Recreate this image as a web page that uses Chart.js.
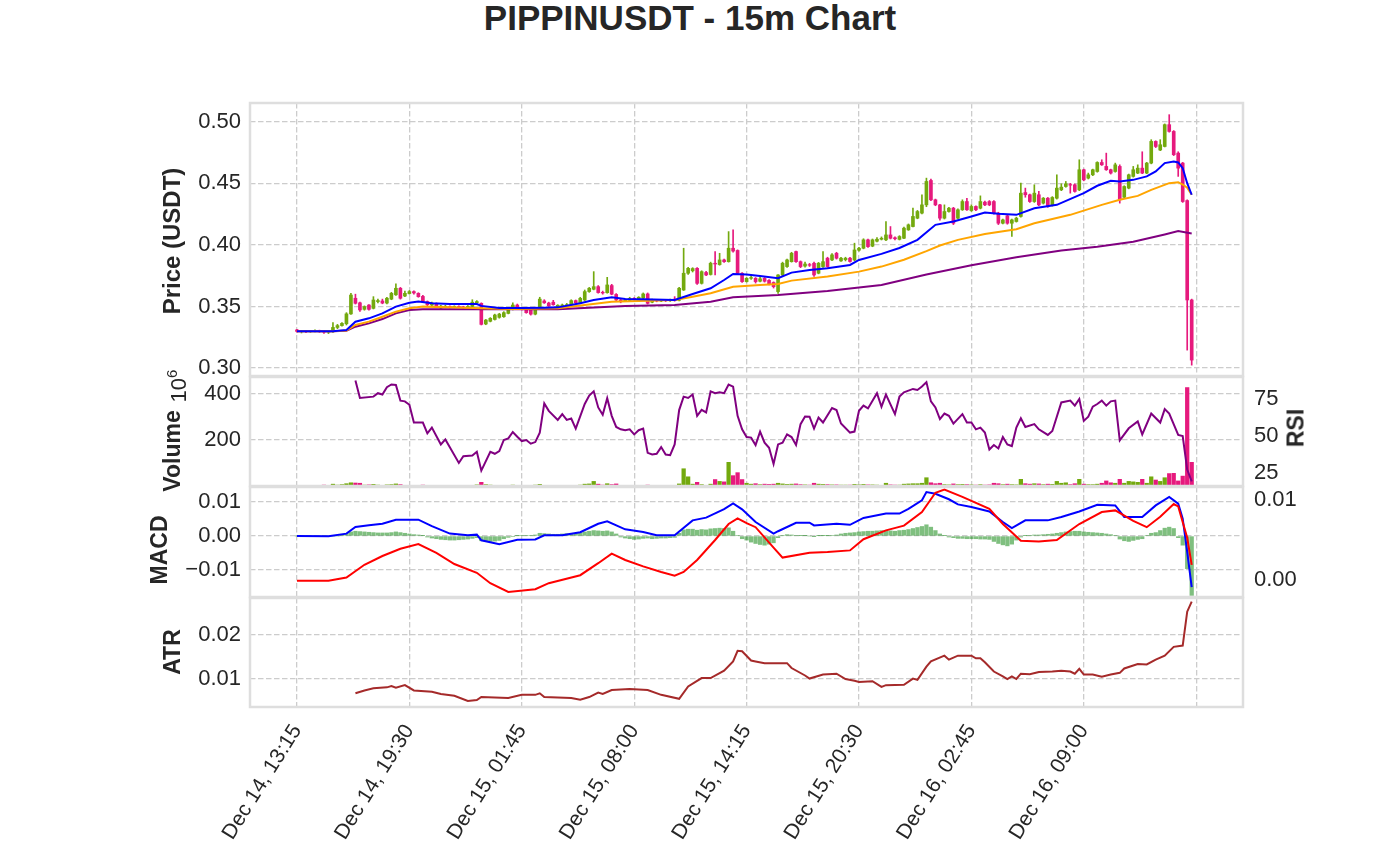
<!DOCTYPE html>
<html>
<head>
<meta charset="utf-8">
<script src="https://cdn.jsdelivr.net/npm/chart.js@4.4.0/dist/chart.umd.min.js"></script>
<style>
  body { margin: 0; background: #fff; width: 1380px; height: 862px; overflow: hidden; position: relative;
         font-family: "Liberation Sans", Arial, sans-serif; color: #262626; }
  .pane { position: absolute; left: 0; width: 1380px; }
  .lbl { position: absolute; font-weight: bold; font-size: 23px; white-space: nowrap; line-height: 1;
         transform: translate(-50%, -50%) rotate(-90deg); z-index: 5; }
  .off { font-weight: normal; font-size: 22px; }
  .off sup { font-size: 15px; }
  #title { position: absolute; left: 0; top: -2px; width: 1380px; text-align: center; font-weight: bold;
           font-size: 35px; line-height: 40px; }
</style>
</head>
<body>
<div id="title">PIPPINUSDT - 15m Chart</div>
<div class="pane" style="top:97px;height:285px"><canvas id="priceChart"></canvas></div>
<div class="pane" style="top:371px;height:121px"><canvas id="volChart"></canvas></div>
<div class="pane" style="top:481px;height:122px"><canvas id="macdChart"></canvas></div>
<div class="pane" style="top:592px;height:270px"><canvas id="atrChart"></canvas></div>
<div class="lbl" style="left:172px;top:241px;font-size:24px">Price (USDT)</div>
<div class="lbl off" style="left:177px;top:386px">10<sup>6</sup></div>
<div class="lbl" style="left:172px;top:451px">Volume</div>
<div class="lbl" style="left:159px;top:550px">MACD</div>
<div class="lbl" style="left:172px;top:652px">ATR</div>
<div class="lbl" style="left:1296px;top:428px">RSI</div>
<script>
// 15m candles, index 0 = Dec 14 13:15
const opens = [
  0.3310,0.3298,0.3300,0.3296,0.3299,0.3303,0.3297,0.3292,0.3296,0.3330,
  0.3345,0.3360,0.3440,0.3567,0.3530,0.3477,0.3512,0.3485,0.3540,0.3545,
  0.3528,0.3560,0.3595,0.3648,0.3585,0.3605,0.3621,0.3607,0.3582,0.3540,
  0.3512,0.3525,0.3488,0.3495,0.3500,0.3495,0.3500,0.3497,0.3492,0.3500,
  0.3530,0.3526,0.3358,0.3380,0.3395,0.3412,0.3417,0.3444,0.3477,0.3512,
  0.3485,0.3477,0.3470,0.3438,0.3480,0.3545,0.3528,0.3535,0.3500,0.3495,
  0.3505,0.3512,0.3548,0.3531,0.3553,0.3621,0.3640,0.3661,0.3615,0.3612,
  0.3670,0.3598,0.3553,0.3545,0.3550,0.3566,0.3562,0.3568,0.3602,0.3535,
  0.3548,0.3545,0.3550,0.3547,0.3560,0.3550,0.3634,0.3770,0.3790,0.3810,
  0.3688,0.3776,0.3760,0.3851,0.3840,0.3878,0.3864,0.3973,0.3955,0.3770,
  0.3702,0.3729,0.3729,0.3705,0.3729,0.3712,0.3695,0.3621,0.3756,0.3824,
  0.3864,0.3946,0.3864,0.3828,0.3840,0.3851,0.3770,0.3824,0.3892,0.3878,
  0.3932,0.3870,0.3880,0.3892,0.3878,0.3957,0.3973,0.4041,0.3990,0.4030,
  0.4046,0.4041,0.4081,0.4058,0.4045,0.4054,0.4122,0.4149,0.4217,0.4258,
  0.4325,0.4523,0.4366,0.4325,0.4217,0.4271,0.4298,0.4217,0.4285,0.4352,
  0.4279,0.4312,0.4298,0.4347,0.4352,0.4352,0.4258,0.4176,0.4236,0.4176,
  0.4190,0.4231,0.4425,0.4407,0.4352,0.4407,0.4339,0.4379,0.4320,0.4379,
  0.4447,0.4474,0.4490,0.4488,0.4447,0.4610,0.4542,0.4569,0.4596,0.4669,
  0.4637,0.4610,0.4596,0.4637,0.4387,0.4461,0.4556,0.4583,0.4623,0.4583,
  0.4664,0.4840,0.4770,0.4799,0.4976,0.4921,0.4745,0.4664,0.4360,0.3553
];
const highs = [
  0.3314,0.3305,0.3306,0.3304,0.3310,0.3308,0.3302,0.3300,0.3370,0.3355,
  0.3370,0.3450,0.3607,0.3600,0.3535,0.3505,0.3515,0.3580,0.3560,0.3560,
  0.3575,0.3615,0.3685,0.3655,0.3625,0.3630,0.3628,0.3612,0.3590,0.3545,
  0.3535,0.3530,0.3510,0.3510,0.3505,0.3506,0.3505,0.3502,0.3508,0.3555,
  0.3548,0.3530,0.3395,0.3410,0.3438,0.3445,0.3458,0.3480,0.3530,0.3520,
  0.3490,0.3482,0.3480,0.3482,0.3575,0.3555,0.3535,0.3550,0.3515,0.3520,
  0.3525,0.3555,0.3553,0.3575,0.3634,0.3655,0.3783,0.3670,0.3625,0.3737,
  0.3680,0.3605,0.3560,0.3560,0.3575,0.3572,0.3580,0.3610,0.3610,0.3560,
  0.3556,0.3558,0.3558,0.3560,0.3580,0.3655,0.3973,0.3818,0.3815,0.3815,
  0.3790,0.3785,0.3860,0.3946,0.3932,0.3885,0.4108,0.4122,0.3960,0.3775,
  0.3735,0.3760,0.3735,0.3740,0.3735,0.3718,0.3700,0.3760,0.3860,0.3885,
  0.3940,0.3950,0.3870,0.3860,0.3850,0.3860,0.3858,0.3946,0.3900,0.3930,
  0.3940,0.3900,0.3900,0.3900,0.4014,0.3980,0.4050,0.4048,0.4048,0.4060,
  0.4065,0.4190,0.4149,0.4065,0.4075,0.4145,0.4170,0.4298,0.4280,0.4407,
  0.4542,0.4535,0.4372,0.4330,0.4325,0.4305,0.4305,0.4292,0.4366,0.4379,
  0.4325,0.4318,0.4398,0.4355,0.4360,0.4360,0.4265,0.4210,0.4240,0.4210,
  0.4225,0.4501,0.4461,0.4412,0.4488,0.4434,0.4385,0.4385,0.4392,0.4569,
  0.4496,0.4515,0.4500,0.4495,0.4691,0.4615,0.4583,0.4615,0.4675,0.4691,
  0.4745,0.4615,0.4664,0.4650,0.4480,0.4575,0.4637,0.4650,0.4756,0.4670,
  0.4854,0.4845,0.4854,0.4982,0.5057,0.4928,0.4756,0.4670,0.4366,0.3560
];
const lows = [
  0.3292,0.3285,0.3288,0.3290,0.3294,0.3290,0.3282,0.3280,0.3290,0.3320,
  0.3340,0.3350,0.3435,0.3520,0.3460,0.3470,0.3470,0.3480,0.3530,0.3522,
  0.3520,0.3555,0.3590,0.3560,0.3580,0.3600,0.3600,0.3575,0.3535,0.3505,
  0.3505,0.3495,0.3480,0.3490,0.3488,0.3490,0.3492,0.3485,0.3488,0.3498,
  0.3525,0.3350,0.3352,0.3375,0.3390,0.3405,0.3412,0.3440,0.3472,0.3480,
  0.3470,0.3445,0.3430,0.3432,0.3475,0.3525,0.3500,0.3510,0.3495,0.3490,
  0.3500,0.3508,0.3525,0.3528,0.3548,0.3615,0.3635,0.3608,0.3600,0.3608,
  0.3595,0.3548,0.3530,0.3540,0.3545,0.3552,0.3555,0.3562,0.3520,0.3530,
  0.3538,0.3540,0.3540,0.3542,0.3543,0.3545,0.3630,0.3760,0.3780,0.3680,
  0.3682,0.3750,0.3755,0.3756,0.3835,0.3858,0.3860,0.3940,0.3765,0.3695,
  0.3698,0.3720,0.3690,0.3700,0.3698,0.3675,0.3650,0.3607,0.3750,0.3818,
  0.3860,0.3858,0.3815,0.3820,0.3825,0.3745,0.3765,0.3818,0.3818,0.3872,
  0.3885,0.3865,0.3870,0.3860,0.3872,0.3950,0.3968,0.3980,0.3985,0.4025,
  0.4040,0.4035,0.4048,0.4040,0.4040,0.4050,0.4118,0.4145,0.4212,0.4252,
  0.4310,0.4360,0.4318,0.4200,0.4210,0.4265,0.4165,0.4210,0.4280,0.4280,
  0.4272,0.4278,0.4292,0.4318,0.4318,0.4250,0.4165,0.4170,0.4168,0.4068,
  0.4185,0.4225,0.4387,0.4345,0.4345,0.4318,0.4332,0.4305,0.4315,0.4372,
  0.4440,0.4468,0.4420,0.4428,0.4440,0.4520,0.4535,0.4562,0.4590,0.4645,
  0.4605,0.4575,0.4590,0.4339,0.4380,0.4455,0.4550,0.4578,0.4578,0.4578,
  0.4658,0.4790,0.4765,0.4795,0.4915,0.4725,0.4556,0.4345,0.3146,0.3024
];
const closes = [
  0.3298,0.3300,0.3296,0.3299,0.3303,0.3297,0.3292,0.3296,0.3330,0.3345,
  0.3363,0.3440,0.3593,0.3526,0.3472,0.3499,0.3477,0.3553,0.3548,0.3528,
  0.3567,0.3607,0.3648,0.3567,0.3607,0.3621,0.3610,0.3580,0.3540,0.3515,
  0.3528,0.3500,0.3503,0.3502,0.3495,0.3500,0.3498,0.3490,0.3500,0.3535,
  0.3540,0.3355,0.3390,0.3404,0.3431,0.3438,0.3450,0.3472,0.3512,0.3485,
  0.3480,0.3450,0.3438,0.3477,0.3560,0.3530,0.3505,0.3515,0.3510,0.3512,
  0.3515,0.3548,0.3531,0.3566,0.3621,0.3648,0.3661,0.3613,0.3610,0.3675,
  0.3600,0.3553,0.3545,0.3553,0.3566,0.3560,0.3575,0.3602,0.3526,0.3548,
  0.3545,0.3550,0.3547,0.3552,0.3548,0.3648,0.3770,0.3810,0.3808,0.3688,
  0.3783,0.3756,0.3851,0.3845,0.3878,0.3864,0.3973,0.3950,0.3770,0.3702,
  0.3729,0.3735,0.3702,0.3725,0.3705,0.3680,0.3661,0.3756,0.3851,0.3878,
  0.3932,0.3864,0.3824,0.3845,0.3835,0.3756,0.3851,0.3864,0.3824,0.3919,
  0.3892,0.3892,0.3892,0.3865,0.3959,0.3973,0.4041,0.3986,0.4041,0.4046,
  0.4054,0.4081,0.4054,0.4050,0.4068,0.4136,0.4163,0.4231,0.4271,0.4325,
  0.4515,0.4366,0.4325,0.4217,0.4271,0.4298,0.4176,0.4285,0.4352,0.4285,
  0.4312,0.4285,0.4352,0.4325,0.4325,0.4258,0.4176,0.4203,0.4176,0.4203,
  0.4217,0.4420,0.4407,0.4352,0.4420,0.4325,0.4379,0.4312,0.4385,0.4461,
  0.4469,0.4496,0.4485,0.4434,0.4610,0.4528,0.4569,0.4610,0.4669,0.4650,
  0.4610,0.4583,0.4650,0.4366,0.4474,0.4569,0.4610,0.4623,0.4583,0.4664,
  0.4840,0.4799,0.4813,0.4976,0.4921,0.4732,0.4623,0.4352,0.3553,0.3065
];
// volume in millions
const volumeM = [
  3,2,2,3,2,3,4,3,8,4,  6,10,14,13,12,4,5,7,4,3,  5,6,9,6,3,2,2,3,4,3,  2,3,2,2,2,2,1,2,2,3,
  5,16,6,4,3,3,3,2,4,3,  2,3,3,4,7,3,3,3,2,2,  2,3,2,4,8,9,20,8,4,10,  6,9,3,2,2,2,2,3,4,2,
  1,1,1,1,2,9,75,40,8,16,  6,3,8,28,20,18,103,45,58,28,  12,8,10,6,8,7,8,12,9,7,  8,9,6,5,4,12,8,7,6,5,
  5,4,4,4,7,5,7,5,5,4,  3,12,5,4,4,8,9,10,10,12,  36,14,10,12,6,5,9,6,7,6,  5,4,6,4,5,12,10,6,8,6,
  5,29,10,8,10,9,6,8,7,20,  12,14,6,10,29,8,6,6,8,12,  22,14,12,29,12,20,18,16,29,12,  40,26,20,36,54,55,22,43,428,103
];
// moving averages on price: [index, value]
const emaFast = [[0,0.3300],[8,0.3300],[11,0.3310],[13,0.3377],[16,0.3404],[19,0.3444],[22,0.3499],[25,0.3531],[27,0.3540],[30,0.3526],
  [34,0.3520],[40,0.3520],[41,0.3505],[45,0.3488],[50,0.3488],[55,0.3490],[58,0.3493],[63,0.3526],[66,0.3553],[70,0.3575],
  [73,0.3560],[77,0.3558],[84,0.3553],[88,0.3602],[92,0.3648],[95,0.3715],[97,0.3764],[100,0.3760],[103,0.3748],[107,0.3729],
  [110,0.3775],[114,0.3797],[118,0.3810],[123,0.3837],[125,0.3878],[130,0.3927],[134,0.3975],[138,0.4041],[142,0.4163],[146,0.4190],
  [150,0.4231],[153,0.4263],[156,0.4252],[160,0.4244],[164,0.4298],[169,0.4325],[175,0.4420],[178,0.4480],[181,0.4520],[183,0.4515],
  [186,0.4528],[189,0.4556],[191,0.4596],[193,0.4664],[195,0.4677],[196,0.4669],[197,0.4623],[198,0.4501],[199,0.4407]];
const emaMid = [[0,0.3300],[8,0.3300],[11,0.3305],[13,0.3350],[16,0.3377],[19,0.3417],[22,0.3458],[25,0.3485],[28,0.3499],[34,0.3493],
  [41,0.3486],[48,0.3480],[55,0.3483],[58,0.3485],[70,0.3539],[84,0.3553],[88,0.3580],[92,0.3607],[97,0.3661],[103,0.3675],
  [107,0.3683],[110,0.3710],[118,0.3743],[125,0.3783],[130,0.3824],[135,0.3880],[140,0.3950],[143,0.3995],[147,0.4041],[153,0.4089],
  [160,0.4127],[164,0.4176],[172,0.4244],[179,0.4325],[183,0.4366],[187,0.4398],[190,0.4447],[194,0.4501],[196,0.4509],[197,0.4490],
  [198,0.4465],[199,0.4407]];
const emaSlow = [[0,0.3300],[8,0.3300],[11,0.3303],[13,0.3336],[16,0.3363],[19,0.3398],[22,0.3444],[25,0.3472],[28,0.3477],[41,0.3477],
  [58,0.3477],[73,0.3504],[84,0.3512],[92,0.3539],[97,0.3575],[107,0.3594],[118,0.3626],[125,0.3655],[130,0.3675],[140,0.3760],
  [150,0.3835],[160,0.3900],[170,0.3955],[178,0.3985],[186,0.4025],[193,0.4085],[196,0.4112],[199,0.4092]];
const rsi = [[13,87.5],[14,75.7],[17,76.6],[18,78.9],[19,78],[20,83],[21,84.8],[22,84.5],[23,73.9],[24,73.4],[25,71.1],[26,59.1],
  [28,59.1],[29,51.8],[30,55.7],[32,44.3],[33,47.7],[36,31.8],[37,36.4],[39,36.8],[40,39.3],[41,26.6],[43,39.3],[44,38],
  [45,39.8],[46,47.3],[47,48.4],[48,52.7],[49,49.5],[50,46.6],[51,47.3],[52,44.8],[53,45.9],[54,52.3],[55,72],[56,67],
  [58,60.9],[59,64.8],[60,60.9],[61,61.8],[62,55],[64,71.6],[65,77.3],[66,80.2],[67,69.3],[68,64.3],[69,75.5],[70,63.6],
  [71,56.1],[72,54.5],[73,53.9],[74,54.5],[75,51.1],[76,53.9],[77,55],[78,38.6],[79,37.5],[80,38],[81,42.5],[82,37.5],
  [83,37],[84,44.3],[85,67.5],[86,76.6],[87,75.7],[88,78],[89,63.6],[90,67.7],[91,65.9],[92,80.2],[93,78.9],[94,79.5],
  [95,78.9],[96,84.8],[97,83.4],[98,63.6],[99,54.5],[100,49.3],[101,48.9],[102,43.9],[103,53],[104,45.5],[105,42],[106,31.1],
  [107,44.3],[108,45.5],[109,51.1],[110,49.3],[111,43.9],[112,58],[113,63.2],[114,63],[115,55],[116,62.5],[117,59.1],[119,68.9],
  [120,67.5],[121,58.4],[123,52.3],[124,53],[125,67],[126,70.5],[127,68.6],[129,78.9],[130,69.8],[131,78],[133,64.8],[134,76.6],
  [135,79.5],[137,81.8],[138,81.1],[139,83.4],[140,86.4],[141,73.4],[142,69.3],[143,61.4],[144,65.2],[145,63.6],[146,58.4],[148,64.8],
  [149,59.1],[150,59.1],[151,54.5],[152,55.7],[153,52.3],[154,40.9],[155,43.9],[156,41.6],[157,49.3],[158,44.3],[159,43.2],[160,55.7],
  [161,62],[162,56.1],[164,58],[165,54.5],[167,50.7],[168,53.4],[170,72.7],[172,73.9],[173,70.5],[174,75],[175,60.2],[176,63],
  [177,69.8],[178,71.6],[179,73.9],[180,70.5],[181,73.4],[182,73.9],[183,47],[185,55.2],[187,59.8],[188,51.1],[190,65.2],[192,59.1],
  [193,68.2],[194,65.2],[196,50.7],[197,50],[198,27.3],[199,19.3]];
// MACD values in thousandths
const macdLine = [[0,0],[7,-0.1],[11,0.7],[13,2.65],[16,3.15],[19,3.6],[22,4.8],[27,4.8],[30,2.9],[34,0.7],[38,0.2],[40,0.4],
  [41,-1.27],[45,-2.45],[49,-1.1],[53,-1.0],[55,0.2],[59,0.2],[63,1.1],[67,3.6],[69,4.3],[73,1.96],[77,1.2],[80,0.2],[84,0.2],
  [88,4.6],[91,5.4],[95,7.9],[97,9.6],[99,7.85],[102,4.1],[106,0.7],[107,1.4],[111,3.9],[114,3.9],[115,3.1],[120,3.6],[123,3.3],
  [126,5.3],[131,6.6],[134,6.6],[136,8.0],[139,10.5],[140,12.9],[142,12.4],[145,10.8],[147,9.3],[150,8.5],[154,7.2],[157,4.1],
  [159,2.35],[162,4.6],[167,4.6],[170,5.6],[174,7.2],[178,9.2],[182,9.0],[184,5.6],[188,5.6],[191,9.0],[194,11.5],[196,9.5],
  [197,5.1],[198,-4.7],[199,-15]];
const signalLine = [[0,-0.1],[7,-0.1],[11,0.3],[15,1.9],[19,3.0],[23,3.9],[27,4.5],[31,3.4],[35,2.0],[40,0.9],[43,-0.4],[47,-1.5],
  [53,-1.15],[56,-0.4],[63,0.6],[67,2.1],[70,3.3],[73,2.5],[77,1.7],[81,1.0],[84,0.55],[86,1.0],[89,2.5],[93,5.0],[96,7.0],
  [98,7.7],[100,7.1],[102,6.6],[106,4.05],[108,2.8],[114,3.4],[118,3.5],[123,3.7],[126,5.1],[131,6.2],[135,6.8],[139,8.5],
  [142,10.9],[144,11.3],[148,10.4],[154,8.9],[157,7.0],[161,4.9],[165,4.8],[169,5.0],[174,7.0],[179,8.5],[182,8.7],[186,7.4],
  [189,6.6],[192,7.9],[195,9.5],[196,9.2],[198,5.3],[199,1.9]];
const macdHist = [
  0,0,0,0,0,0,0,0,0,0,  0.3,0.8,1.2,1.4,1.3,1.2,1.1,1.0,0.9,0.9,  0.9,1.0,1.2,1.0,0.8,0.6,0.4,0.3,0.1,-0.3,
  -0.6,-0.8,-1.0,-1.1,-1.2,-1.2,-1.1,-1.0,-0.9,-0.7,  -0.5,-1.4,-1.6,-1.6,-1.5,-1.3,-0.8,-0.4,-0.2,0.1,
  0.2,0.2,0.2,0.3,0.8,0.7,0.6,0.5,0.5,0.6,  0.7,0.8,0.8,1.0,1.2,1.4,1.6,1.5,1.4,1.5,
  1.2,0.6,-0.3,-0.6,-0.8,-1.0,-0.9,-0.7,-0.6,-0.8,  -0.7,-0.6,-0.6,-0.5,-0.4,0.8,1.8,2.0,2.0,1.7,
  1.9,1.8,2.1,2.2,2.3,2.2,2.4,1.4,0.2,-0.8,  -1.2,-1.8,-2.2,-2.5,-2.7,-2.4,-2.0,-0.5,0.2,0.4,
  0.3,0.2,0.1,0.1,0,-0.1,0.1,0.1,0.1,0.2,  0.3,0.6,0.8,0.9,1.0,1.2,1.3,1.4,1.4,1.5,
  1.6,1.6,1.5,1.4,1.6,1.7,1.9,2.2,2.5,2.8,  3.3,2.6,1.6,0.6,0.1,-0.3,-0.5,-0.7,-0.7,-0.8,
  -0.8,-0.8,-0.9,-0.9,-1.0,-1.6,-2.2,-2.6,-2.9,-2.4,  -1.2,-0.3,0.1,0.2,0.3,0.3,0.4,0.5,0.6,0.8,
  1.0,1.2,1.3,1.4,1.4,1.2,1.1,1.0,0.9,0.8,  0.6,0.4,0.2,-0.9,-1.4,-1.6,-1.3,-1.0,-0.8,0.2,
  0.8,1.0,1.6,2.3,2.6,2.2,-0.5,-2.7,-9.6,-17.5
];
// ATR in thousandths
const atr = [[13,6.75],[15,7.4],[17,7.9],[20,8.1],[21,8.4],[22,8.0],[24,8.6],[26,7.4],[30,7.1],[32,6.6],[35,6.2],[38,5.0],
  [40,5.2],[41,5.9],[47,5.7],[50,6.4],[53,6.4],[54,6.75],[55,5.9],[61,5.7],[63,5.3],[65,5.9],[67,6.9],[68,6.6],[70,7.5],
  [74,7.7],[78,7.5],[81,6.4],[85,5.5],[87,8.3],[90,10.2],[92,10.2],[95,11.9],[97,14.0],[98,16.4],[99,16.3],[101,14.2],[102,14.0],
  [104,13.6],[109,13.6],[110,12.5],[113,10.8],[114,10.1],[117,11.0],[120,11.2],[122,10.0],[124,9.6],[125,9.3],[128,9.5],
  [130,8.2],[131,8.6],[135,8.7],[137,10.1],[138,9.8],[140,12.8],[141,14.0],[144,15.3],[145,14.4],[147,15.3],[150,15.3],
  [151,14.7],[152,14.7],[153,13.8],[155,11.7],[157,10.6],[158,10.0],[159,10.6],[160,10.0],[161,11.2],[163,11.1],[165,11.6],
  [168,11.7],[170,11.9],[172,11.7],[173,11.2],[174,12.3],[175,11.0],[177,11.0],[179,10.5],[181,11.0],[183,11.4],[184,12.4],
  [187,13.4],[189,13.3],[191,14.4],[193,15.3],[195,17.3],[197,17.6],[198,25.3],[199,27.6]];

const tickIdx = [0, 25, 50, 75, 100, 125, 150, 175, 200];
const tickText = ['Dec 14, 13:15', 'Dec 14, 19:30', 'Dec 15, 01:45', 'Dec 15, 08:00',
                  'Dec 15, 14:15', 'Dec 15, 20:30', 'Dec 16, 02:45', 'Dec 16, 09:00', ''];
const priceTicks = [0.30, 0.35, 0.40, 0.45, 0.50];
const volTicks = [200, 400];
const rsiTicks = [25, 50, 75];
const macdTicks = [-10, 0, 10];
const signalTicks = [0, 10];
const atrTicks = [10, 20];

const UP = '#73a90e', DOWN = '#e6197d';
const GRID = '#cccccc', FRAME = '#dedede', TEXT = '#262626';
const DASH = [5.5, 2.5];
const X_MIN = -10.45, X_MAX = 210.41;
const ROT = 58;

Chart.defaults.font.family = "'Liberation Sans', Arial, sans-serif";
Chart.defaults.color = TEXT;

const candleColor = opens.map((o, i) => closes[i] >= o ? UP : DOWN);
const pts = pairs => pairs.map(([x, y]) => ({x, y}));
const seq = arr => arr.map((y, x) => ({x, y}));

const frame = {
  id: 'frame',
  afterDraw(chart) {
    const {ctx, chartArea: a} = chart;
    ctx.save();
    ctx.strokeStyle = FRAME;
    ctx.lineWidth = 2.5;
    ctx.strokeRect(a.left, a.top, a.right - a.left, a.bottom - a.top);
    ctx.restore();
  }
};

function xAxis(showLabels) {
  return {
    type: 'linear', min: X_MIN, max: X_MAX, offset: false,
    afterBuildTicks: s => { s.ticks = tickIdx.map(v => ({value: v})); },
    afterFit: s => { s.height = showLabels ? 155 : 0; s.paddingLeft = 0; s.paddingRight = 0; },
    grid: { offset: false, color: GRID, lineWidth: 1.3, drawTicks: false },
    border: { display: false, dash: DASH },
    ticks: { display: showLabels, autoSkip: false, maxRotation: ROT, minRotation: ROT, padding: 13,
             font: { size: 21 }, callback: (v, i) => tickText[i] }
  };
}

function yAxis(side, min, max, ticks, fmt, grid) {
  return {
    position: side, min, max,
    afterBuildTicks: s => { s.ticks = ticks.map(v => ({value: v})); },
    afterFit: s => { s.width = side === 'left' ? 250 : 137; s.paddingTop = 0; s.paddingBottom = 0; },
    grid: { display: true, drawOnChartArea: grid, color: GRID, lineWidth: 1.3, drawTicks: false },
    border: { display: false, dash: DASH },
    ticks: { callback: fmt, padding: side === 'left' ? 9 : 11, font: { size: 22 } }
  };
}

const lineSet = (data, color, axis, order) => ({
  type: 'line', data: pts(data), borderColor: color, borderWidth: 2, pointRadius: 0,
  tension: 0, yAxisID: axis, order
});

function makeChart(id, datasets, scales, padding) {
  return new Chart(document.getElementById(id), {
    type: 'bar',
    data: { datasets },
    options: {
      responsive: true, maintainAspectRatio: false, animation: false,
      layout: { padding },
      plugins: { legend: { display: false }, tooltip: { enabled: false } },
      scales
    },
    plugins: [frame]
  });
}

const fmt2 = v => (v < 0 ? '\u2212' : '') + Math.abs(v).toFixed(2);
const fmtMilli = v => (v < 0 ? '\u2212' : '') + Math.abs(v / 1000).toFixed(2);

makeChart('priceChart', [
  lineSet(emaFast, '#0000ff', 'y', 0),
  lineSet(emaMid, '#ffa500', 'y', 1),
  lineSet(emaSlow, '#800080', 'y', 2),
  { data: opens.map((o, i) => ({x: i, y: [o, closes[i]]})), backgroundColor: candleColor,
    barThickness: 3, grouped: false, order: 3 },
  { data: opens.map((o, i) => ({x: i, y: [lows[i], highs[i]]})), backgroundColor: candleColor,
    barThickness: 1, grouped: false, order: 4 }
], {
  x: xAxis(false),
  y: yAxis('left', 0.29359, 0.51518, priceTicks, fmt2, true)
}, { left: 0, right: 137, top: 6, bottom: 6 });

makeChart('volChart', [
  lineSet(rsi, '#800080', 'y2', 0),
  { data: seq(volumeM), backgroundColor: candleColor, barThickness: 3.6, grouped: false, yAxisID: 'y', order: 1 }
], {
  x: xAxis(false),
  y: yAxis('left', 0, 473.9, volTicks, v => String(v), true),
  y2: yAxis('right', 16.22, 89.86, rsiTicks, v => String(v), false)
}, { left: 0, right: 0, top: 6, bottom: 6 });

makeChart('macdChart', [
  lineSet(signalLine, '#ff0000', 'y2', 0),
  lineSet(macdLine, '#0000ff', 'y', 1),
  { data: seq(macdHist), backgroundColor: 'rgba(0,128,0,0.5)', barThickness: 3.6, grouped: false, yAxisID: 'y', order: 2 }
], {
  x: xAxis(false),
  y: yAxis('left', -17.94, 14.41, macdTicks, fmtMilli, true),
  y2: yAxis('right', -2.125, 11.625, signalTicks, fmtMilli, false)
}, { left: 0, right: 0, top: 6, bottom: 6 });

makeChart('atrChart', [
  lineSet(atr, '#a52a2a', 'y', 0)
], {
  x: xAxis(true),
  y: yAxis('left', 3.636, 28.41, atrTicks, fmtMilli, true)
}, { left: 0, right: 137, top: 6, bottom: 0 });
</script>
</body>
</html>
